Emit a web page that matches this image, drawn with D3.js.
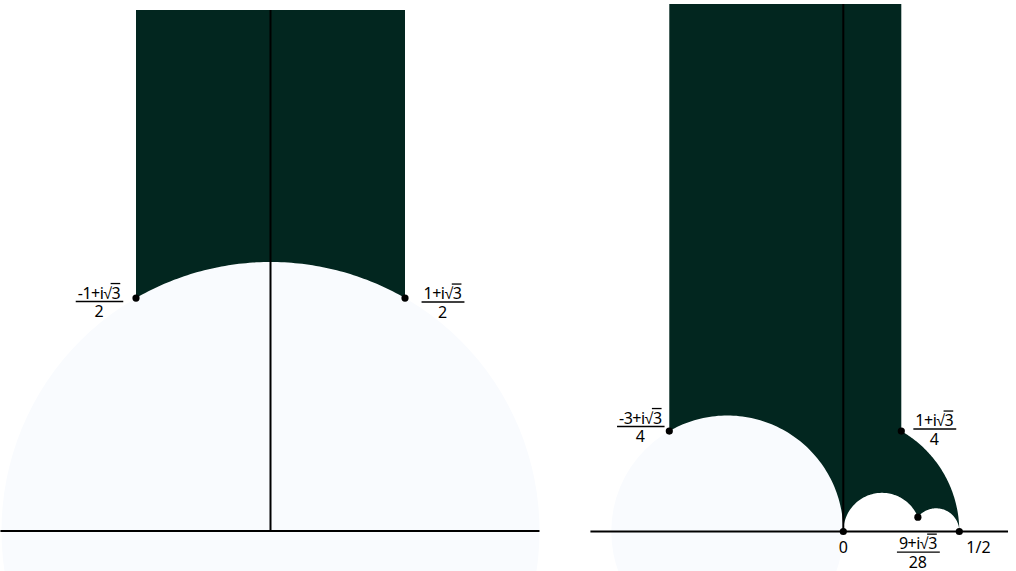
<!DOCTYPE html>
<html>
<head>
<meta charset="utf-8">
<script src="https://cdn.jsdelivr.net/npm/d3@7"></script>
<style>
  html, body { margin: 0; padding: 0; background: #fff; }
  svg { display: block; }
  text { font-family: "Noto Sans", sans-serif; font-size: 16px; fill: #000; }
</style>
</head>
<body>
<div id="chart"></div>
<script>
// Left: fundamental domain of the modular group.
// Right: a domain bounded by Ford-type semicircles.
const leftRange = [-1.004, 1.0];          // real axis extent drawn
const leftStrip = [-0.5, 0.5];            // dark strip edges
const leftTop = 1.937;                    // top of dark strip (imag)
const leftArcs = [{ c: 0, r: 1, from: -0.5, to: 0.5 }];
const leftDisks = [{ c: 0, r: 1 }];
const leftPoints = [
  { id: "L1", re: -0.5, im: 0.866, num: ["-1+i", "3"], den: "2" },
  { id: "L2", re: 0.5, im: 0.866, num: ["1+i", "3"], den: "2" }
];

const rightRange = [-1.09, 0.71];
const rightStrip = [-0.75, 0.25];
const rightTop = 2.274;
// lower boundary, left to right along the bottom
const rightArcs = [
  { c: -0.5, r: 0.5, from: -0.75, to: 0 },
  { c: 1 / 6, r: 1 / 6, from: 0, to: 9 / 28 },
  { c: 0.4, r: 0.1, from: 9 / 28, to: 0.5 }
];
// right side: |z| = 1/2 from 1/2 back up to 1/4
const rightSideArc = { c: 0, r: 0.5, from: 0.5, to: 0.25 };
const rightDisks = [{ c: -0.5, r: 0.5 }];
const rightPoints = [
  { id: "R1", re: -0.75, im: 0.433, num: ["-3+i", "3"], den: "4" },
  { id: "R2", re: 0.25, im: 0.433, num: ["1+i", "3"], den: "4" },
  { id: "R3", re: 9 / 28, im: 0.0619, num: ["9+i", "3"], den: "28" },
  { id: "R4", re: 0, im: 0, text: "0" },
  { id: "R5", re: 0.5, im: 0, text: "1/2" }
];

// label placement (pixel offsets of the fraction bar centre from the point)
const labelOffset = {
  L1: [-37, 3.5], L2: [37.5, 4],
  R1: [-29, -4.5], R2: [33, -2], R3: [0, 35],
  R4: [0, 21], R5: [7, 21]
};

const width = 1016, height = 571;
const dark = "#02261f";
const light = "#f9fbfe";

const svg = d3.select("#chart").append("svg")
  .attr("width", width).attr("height", height);

function arcPoints(arc, n = 80) {
  // points on the upper semicircle between real parts from and to
  const a0 = Math.acos(Math.max(-1, Math.min(1, (arc.from - arc.c) / arc.r)));
  const a1 = Math.acos(Math.max(-1, Math.min(1, (arc.to - arc.c) / arc.r)));
  return d3.range(n + 1).map(i => {
    const a = a0 + (a1 - a0) * i / n;
    return [arc.c + arc.r * Math.cos(a), arc.r * Math.sin(a)];
  });
}

function drawPanel(cfg) {
  const g = svg.append("g");
  const x = d3.scaleLinear().domain([0, 1]).range([cfg.x0, cfg.x0 + cfg.unit]);
  const y = d3.scaleLinear().domain([0, 1]).range([cfg.y0, cfg.y0 - cfg.unit]);

  // light disks
  g.selectAll("circle.disk").data(cfg.disks).join("circle")
    .attr("class", "disk")
    .attr("cx", d => x(d.c)).attr("cy", y(0))
    .attr("r", d => x(d.r) - x(0))
    .attr("fill", light);

  // dark region
  let pts = [[cfg.strip[0], cfg.top]];
  cfg.arcs.forEach(a => { pts = pts.concat(arcPoints(a)); });
  if (cfg.sideArc) pts = pts.concat(arcPoints(cfg.sideArc));
  pts.push([cfg.strip[1], cfg.top]);
  const line = d3.line().x(d => x(d[0])).y(d => y(d[1]));
  g.append("path").attr("d", line(pts) + "Z").attr("fill", dark);

  // real axis
  g.append("line")
    .attr("x1", x(cfg.range[0])).attr("x2", x(cfg.range[1]))
    .attr("y1", y(0)).attr("y2", y(0))
    .attr("stroke", "#000").attr("stroke-width", 2);
  // imaginary axis
  g.append("line")
    .attr("x1", x(0)).attr("x2", x(0))
    .attr("y1", y(0)).attr("y2", y(cfg.top))
    .attr("stroke", "#000").attr("stroke-width", 2);

  // points
  g.selectAll("circle.pt").data(cfg.points).join("circle")
    .attr("class", "pt")
    .attr("cx", d => x(d.re)).attr("cy", d => y(d.im))
    .attr("r", 3.6).attr("fill", "#000");

  cfg.points.forEach(p => {
    const [ox, oy] = labelOffset[p.id];
    const px = x(p.re) + ox, py = y(p.im) + oy;
    if (p.text) {
      g.append("text")
        .attr("x", px).attr("y", py)
        .attr("text-anchor", p.id === "R5" ? "start" : "middle")
        .attr("font-size", 14)
        .text(p.text);
      return;
    }
    const t = g.append("text").attr("y", 0).attr("letter-spacing", "-0.5");
    t.append("tspan").text(p.num[0] + "\u221A");
    t.append("tspan").text(p.num[1]);
    const w = t.node().getComputedTextLength();
    const cx = px, by = py;
    t.attr("x", cx - w / 2).attr("y", by - 3);
    // overline on the radicand
    const sub = t.node().getSubStringLength(p.num[0].length + 1, p.num[1].length);
    const sx = cx + w / 2 - sub;
    g.append("line")
      .attr("x1", sx - 1).attr("x2", sx + sub)
      .attr("y1", by - 18).attr("y2", by - 18)
      .attr("stroke", "#000").attr("stroke-width", 1.3);
    // fraction bar
    g.append("line")
      .attr("x1", cx - w / 2 - 2).attr("x2", cx + w / 2 + 3)
      .attr("y1", by).attr("y2", by)
      .attr("stroke", "#000").attr("stroke-width", 1.4);
    g.append("text")
      .attr("x", cx).attr("y", by + 15.5)
      .attr("text-anchor", "middle")
      .text(p.den);
  });
}

drawPanel({
  x0: 270.5, y0: 531, unit: 269,
  range: leftRange, strip: leftStrip, top: leftTop,
  arcs: leftArcs, disks: leftDisks, points: leftPoints
});

drawPanel({
  x0: 843.3, y0: 531.5, unit: 232,
  range: rightRange, strip: rightStrip, top: rightTop,
  arcs: rightArcs, sideArc: rightSideArc, disks: rightDisks, points: rightPoints
});
</script>
</body>
</html>
